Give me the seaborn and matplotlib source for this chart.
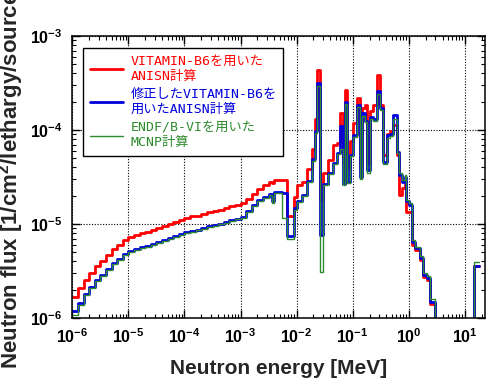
import numpy as np
import pandas as pd
import matplotlib
matplotlib.use('Agg')
import matplotlib.pyplot as plt
import seaborn as sns
from matplotlib.ticker import FixedLocator, FuncFormatter, LogLocator, NullFormatter
from matplotlib.font_manager import FontProperties

# group boundaries, log10(E / MeV)
edges_log = [
    -6.0, -5.9, -5.8, -5.7, -5.6, -5.5, -5.4, -5.3, -5.2, -5.1,
    -5.0, -4.9, -4.8, -4.7, -4.6, -4.5, -4.4, -4.3, -4.2, -4.1,
    -4.0, -3.9, -3.8, -3.7, -3.6, -3.5, -3.4, -3.3, -3.2, -3.1,
    -3.0, -2.9, -2.8, -2.7, -2.6, -2.5, -2.44, -2.40, -2.26, -2.166,
    -2.054, -1.993, -1.904, -1.814, -1.725, -1.666, -1.636, -1.589, -1.536, -1.434,
    -1.345, -1.273, -1.220, -1.166, -1.130, -1.095, -1.041, -0.987, -0.916, -0.862,
    -0.827, -0.773, -0.737, -0.684, -0.630, -0.559, -0.505, -0.452, -0.380, -0.327,
    -0.273, -0.202, -0.166, -0.112, -0.059, -0.041, 0.012, 0.066, 0.120, 0.209,
    0.262, 0.334, 0.387, 0.477, 0.55, 1.155, 1.25,
]

# log10 of flux in each group
flux_vit_log = [
    -5.78, -5.68, -5.60, -5.52, -5.45, -5.39, -5.33, -5.27, -5.22, -5.17,
    -5.14, -5.12, -5.10, -5.08, -5.06, -5.04, -5.02, -5.00, -4.98, -4.96,
    -4.94, -4.92, -4.91, -4.89, -4.87, -4.86, -4.85, -4.83, -4.81, -4.80,
    -4.78, -4.73, -4.68, -4.63, -4.59, -4.55, -4.56, -4.53, -4.53, -4.92,
    -4.71, -4.58, -4.55, -4.42, -4.20, -3.88, -3.36, -4.74, -4.46, -4.32,
    -4.16, -4.14, -3.82, -4.36, -3.57, -4.40, -4.12, -3.93, -3.66, -4.40,
    -3.77, -3.73, -4.35, -3.80, -3.73, -3.41, -3.73, -4.27, -4.04, -4.01,
    -3.95, -4.27, -4.69, -4.62, -4.55, -4.87, -4.87, -5.22, -5.28, -5.38,
    -5.56, -5.60, -5.85, -6.08, -8.00, -5.45,
]

flux_mod_log = [
    -5.93, -5.84, -5.75, -5.67, -5.60, -5.54, -5.48, -5.42, -5.37, -5.32,
    -5.29, -5.27, -5.25, -5.23, -5.21, -5.19, -5.17, -5.15, -5.13, -5.11,
    -5.09, -5.07, -5.06, -5.04, -5.02, -5.01, -5.00, -4.98, -4.96, -4.95,
    -4.93, -4.86, -4.80, -4.75, -4.71, -4.68, -4.76, -4.66, -4.67, -5.13,
    -4.83, -4.76, -4.69, -4.54, -4.31, -4.01, -3.50, -5.12, -4.57, -4.46,
    -4.35, -4.25, -3.96, -4.57, -3.70, -4.55, -4.27, -4.05, -3.73, -4.50,
    -3.82, -3.90, -4.43, -3.86, -3.88, -3.59, -3.77, -4.34, -4.05, -4.04,
    -3.84, -4.23, -4.48, -4.55, -4.50, -4.76, -4.80, -5.19, -5.26, -5.36,
    -5.54, -5.57, -5.83, -6.05, -8.00, -5.45,
]

flux_mcnp_log = [
    -5.97, -5.86, -5.76, -5.68, -5.61, -5.55, -5.49, -5.43, -5.38, -5.33,
    -5.30, -5.28, -5.26, -5.24, -5.22, -5.20, -5.18, -5.16, -5.14, -5.12,
    -5.10, -5.08, -5.06, -5.05, -5.03, -5.02, -5.00, -4.99, -4.97, -4.95,
    -4.94, -4.87, -4.81, -4.76, -4.72, -4.69, -4.78, -4.67, -4.94, -5.16,
    -4.85, -4.77, -4.70, -4.55, -4.33, -4.03, -3.53, -5.51, -4.59, -4.47,
    -4.36, -4.26, -4.20, -4.58, -3.72, -4.56, -4.28, -4.07, -3.76, -4.52,
    -3.85, -3.92, -4.46, -3.88, -3.90, -3.62, -3.79, -4.36, -4.08, -4.06,
    -3.88, -4.25, -4.46, -4.53, -4.48, -4.74, -4.78, -5.17, -5.24, -5.34,
    -5.52, -5.55, -5.80, -6.02, -8.00, -5.40,
]

labels = [
    'VITAMIN-B6を用いた\nANISN計算',
    '修正したVITAMIN-B6を\n用いたANISN計算',
    'ENDF/B-VIを用いた\nMCNP計算',
]
colors = ['#ff0000', '#0000dd', '#2e8b2e']
widths = [2.0, 2.0, 1.0]

sns.set_style('ticks')
plt.rcParams['font.family'] = ['Liberation Sans', 'DejaVu Sans']
plt.rcParams['mathtext.fontset'] = 'custom'
plt.rcParams['mathtext.rm'] = 'Liberation Sans:bold'
plt.rcParams['mathtext.bf'] = 'Liberation Sans:bold'
plt.rcParams['mathtext.it'] = 'Liberation Sans:bold'

fig = plt.figure(figsize=(4.9, 3.81), dpi=100)
ax = fig.add_axes([0.1476, 0.1654, 0.8424, 0.7401])

energy = 10.0 ** np.array(edges_log)
for vals, lab, col, lw in zip([flux_vit_log, flux_mod_log, flux_mcnp_log], labels, colors, widths):
    flux = 10.0 ** np.array(vals + [vals[-1]])
    df = pd.DataFrame({'E': energy, 'flux': flux})
    sns.lineplot(data=df, x='E', y='flux', ax=ax, color=col, lw=lw, label=lab,
                 drawstyle='steps-post', estimator=None, sort=False)

ax.set_xscale('log')
ax.set_yscale('log')
ax.set_xlim(1e-6, 23)
ax.set_ylim(1e-6, 1e-3)

ax.xaxis.set_major_locator(FixedLocator([10.0 ** k for k in range(-6, 2)]))
ax.yaxis.set_major_locator(FixedLocator([10.0 ** k for k in range(-6, -2)]))
fmt = FuncFormatter(lambda v, p: r'$\mathbf{10^{%d}}$' % int(round(np.log10(v))))
ax.xaxis.set_major_formatter(fmt)
ax.yaxis.set_major_formatter(fmt)
for axis in (ax.xaxis, ax.yaxis):
    axis.set_minor_locator(LogLocator(base=10, subs=np.arange(2, 10), numticks=30))
    axis.set_minor_formatter(NullFormatter())

ax.tick_params(which='both', direction='in', top=True, right=True, colors='black')
ax.tick_params(which='major', length=6, width=1.0, labelsize=11.5)
ax.tick_params(which='minor', length=3, width=0.8)
ax.tick_params(axis='x', which='major', pad=7)
ax.tick_params(axis='y', which='major', pad=7)
for s in ax.spines.values():
    s.set_linewidth(1.1)
    s.set_color('black')

ax.grid(True, which='major', color='black', linestyle=(0, (1, 1.5)), linewidth=0.8)

ax.set_xlabel('Neutron energy [MeV]', fontsize=15, fontweight='bold')
ax.xaxis.set_label_coords(0.5, -0.145)
ax.set_ylabel(r'Neutron flux [1/cm$^{\mathbf{2}}$/lethargy/source]', fontsize=16,
              fontweight='bold')
ax.yaxis.set_label_coords(-0.112, 0.5)

leg = ax.legend(loc='upper left', bbox_to_anchor=(0.026, 0.957), borderaxespad=0,
                frameon=True, fancybox=False, edgecolor='black', framealpha=1,
                prop=FontProperties(family=['DejaVu Sans Mono', 'Noto Sans CJK JP'], size=9.5),
                handlelength=2.5, handletextpad=0.6, labelspacing=0.4,
                borderpad=0.5, labelcolor='linecolor')
leg.get_frame().set_linewidth(1.0)

fig.savefig('out.png', dpi=100)
